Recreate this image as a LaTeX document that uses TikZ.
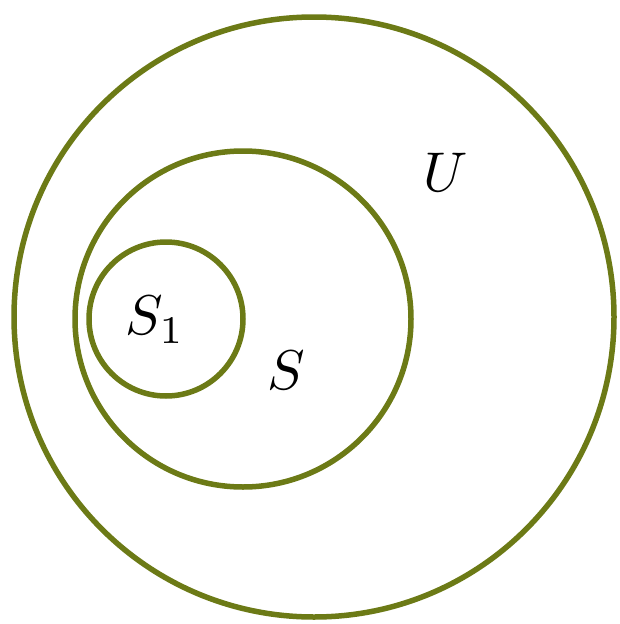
\documentclass[tikz,border=0pt]{standalone}
\usepackage{graphicx}
\begin{document}
\begin{tikzpicture}[x=1pt,y=-1pt,
  ring/.style={draw=olivering,line width=5.5pt},
  lab/.style={inner sep=0pt}]
\definecolor{olivering}{RGB}{108,122,22}
\useasboundingbox (0,0) rectangle (619,624);
\node[ring,circle,minimum size=600pt,inner sep=0pt] (U) at (314,317) {};
\node[ring,circle,minimum size=336pt,inner sep=0pt] (S) at (243,319) {};
\node[ring,circle,minimum size=154pt,inner sep=0pt] (S1) at (166,319) {};
\node[lab] (tU) at (446,172) {\scalebox{5.6}{$U$}};
\node[lab] (tS) at (286,370) {\scalebox{5.6}{$S$}};
\node[lab] (tS1) at (155,320) {\scalebox{5.6}{$S_1$}};
\end{tikzpicture}
\end{document}
